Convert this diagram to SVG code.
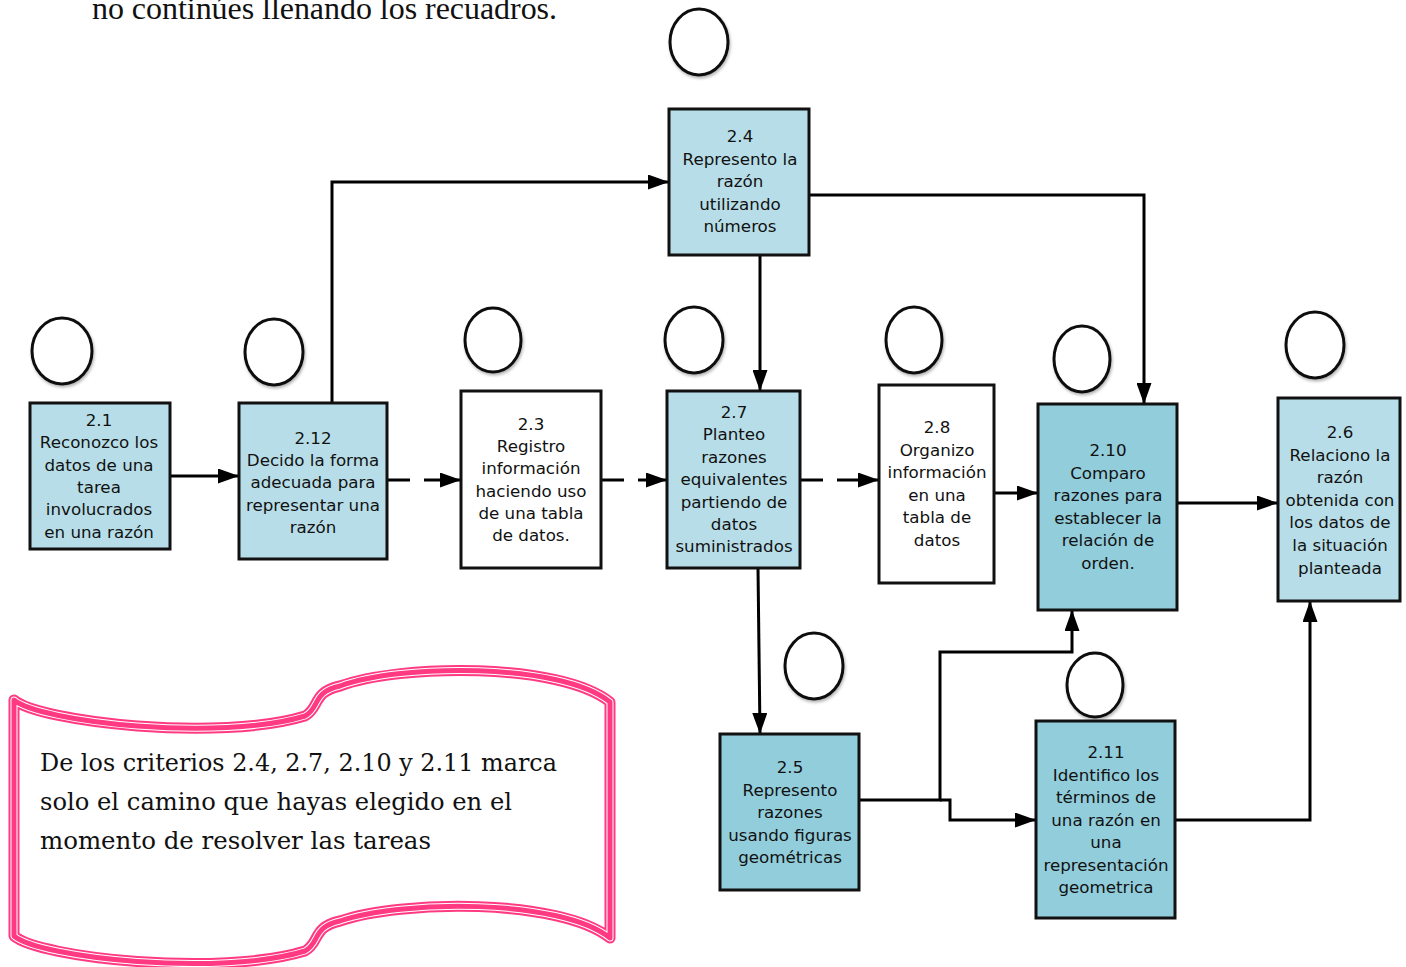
<svg xmlns="http://www.w3.org/2000/svg" width="1406" height="967" viewBox="0 0 1406 967">
<defs>
<style>
.box{stroke:#111;stroke-width:3}
.light{fill:#B7DEE8}
.dark{fill:#92CDDC}
.white{fill:#fff}
.lbl{font-family:"DejaVu Sans","Verdana",sans-serif;font-size:16.7px;fill:#111;text-anchor:middle}
.circ{fill:#fff;stroke:#111;stroke-width:3;filter:url(#sh)}
.con{fill:none;stroke:#000;stroke-width:3}
.scroll{fill:none;stroke-linejoin:round;stroke-linecap:round}
.note{font-family:"DejaVu Serif","Liberation Serif",serif;font-size:25px;fill:#111}
</style>
<marker id="ah" markerUnits="userSpaceOnUse" markerWidth="21" markerHeight="15" refX="21" refY="7.5" orient="auto">
<path d="M0,0 L21,7.5 L0,15 z" fill="#000"/>
</marker>
<filter id="sh" x="-30%" y="-30%" width="160%" height="160%">
<feDropShadow dx="1" dy="2" stdDeviation="1.5" flood-color="#000" flood-opacity="0.3"/>
</filter>
</defs>
<rect width="1406" height="967" fill="#fff"/>

<text x="92" y="19" font-family="Liberation Serif, serif" font-size="32" fill="#111" textLength="465" lengthAdjust="spacing">no continúes llenando los recuadros.</text>

<g id="note">
<path id="scrollPath" class="scroll" d="M14,700 C40,722 220,742 305,716 C320,708 312,692 340,686 C400,664 560,662 610,702 L610,938 C560,898 400,900 340,921 C312,927 320,943 305,951 C220,977 40,958 14,936 Z" stroke="#FF3A82" stroke-width="11"/>
<path class="scroll" d="M14,700 C40,722 220,742 305,716 C320,708 312,692 340,686 C400,664 560,662 610,702 L610,938 C560,898 400,900 340,921 C312,927 320,943 305,951 C220,977 40,958 14,936 Z" stroke="#fff" stroke-width="7"/>
<path class="scroll" d="M14,700 C40,722 220,742 305,716 C320,708 312,692 340,686 C400,664 560,662 610,702 L610,938 C560,898 400,900 340,921 C312,927 320,943 305,951 C220,977 40,958 14,936 Z" stroke="#FF3A82" stroke-width="5"/>
<text class="note" x="40" y="771" textLength="517" lengthAdjust="spacingAndGlyphs">De los criterios 2.4, 2.7, 2.10 y 2.11 marca</text>
<text class="note" x="40" y="810" textLength="472" lengthAdjust="spacingAndGlyphs">solo el camino que hayas elegido en el</text>
<text class="note" x="40" y="849" textLength="391" lengthAdjust="spacingAndGlyphs">momento de resolver las tareas</text>
</g>

<g id="connectors">
<path class="con" d="M170,476 H239" marker-end="url(#ah)"/>
<path class="con" d="M332,403 V182 H669" marker-end="url(#ah)"/>
<path class="con" d="M387,480 H410"/>
<path class="con" d="M424,480 H461" marker-end="url(#ah)"/>
<path class="con" d="M601,480 H624"/>
<path class="con" d="M638,480 H667" marker-end="url(#ah)"/>
<path class="con" d="M800,480 H823"/>
<path class="con" d="M837,480 H879" marker-end="url(#ah)"/>
<path class="con" d="M994,493 H1038" marker-end="url(#ah)"/>
<path class="con" d="M1177,503 H1278" marker-end="url(#ah)"/>
<path class="con" d="M760,255 V391" marker-end="url(#ah)"/>
<path class="con" d="M809,195 H1144 V404" marker-end="url(#ah)"/>
<path class="con" d="M758,568 L760,734" marker-end="url(#ah)"/>
<path class="con" d="M859,800 H940 V652 H1072 V610" marker-end="url(#ah)"/>
<path class="con" d="M940,800 H950 V820 H1036" marker-end="url(#ah)"/>
<path class="con" d="M1175,820 H1310 V601" marker-end="url(#ah)"/>
</g>

<g id="n2_4">
<ellipse class="circ" cx="699" cy="42" rx="29" ry="33"/>
<rect class="box light" x="669" y="109" width="140" height="146"/>
<text class="lbl" x="740" y="142"><tspan x="740">2.4</tspan><tspan x="740" dy="22.5">Represento la</tspan><tspan x="740" dy="22.5">razón</tspan><tspan x="740" dy="22.5">utilizando</tspan><tspan x="740" dy="22.5">números</tspan></text>
</g>

<g id="n2_1">
<ellipse class="circ" cx="62" cy="351" rx="30" ry="33"/>
<rect class="box light" x="30" y="403" width="140" height="146"/>
<text class="lbl" x="99" y="426"><tspan x="99">2.1</tspan><tspan x="99" dy="22.3">Reconozco los</tspan><tspan x="99" dy="22.3">datos de una</tspan><tspan x="99" dy="22.3">tarea</tspan><tspan x="99" dy="22.3">involucrados</tspan><tspan x="99" dy="22.3">en una razón</tspan></text>
</g>

<g id="n2_12">
<ellipse class="circ" cx="274" cy="352" rx="29" ry="33"/>
<rect class="box light" x="239" y="403" width="148" height="156"/>
<text class="lbl" x="313" y="444"><tspan x="313">2.12</tspan><tspan x="313" dy="22.2">Decido la forma</tspan><tspan x="313" dy="22.2">adecuada para</tspan><tspan x="313" dy="22.2">representar una</tspan><tspan x="313" dy="22.2">razón</tspan></text>
</g>

<g id="n2_3">
<ellipse class="circ" cx="493" cy="340" rx="28" ry="32"/>
<rect class="box white" x="461" y="391" width="140" height="177"/>
<text class="lbl" x="531" y="430"><tspan x="531">2.3</tspan><tspan x="531" dy="22.2">Registro</tspan><tspan x="531" dy="22.2">información</tspan><tspan x="531" dy="22.2">haciendo uso</tspan><tspan x="531" dy="22.2">de una tabla</tspan><tspan x="531" dy="22.2">de datos.</tspan></text>
</g>

<g id="n2_7">
<ellipse class="circ" cx="694" cy="340" rx="29" ry="33"/>
<rect class="box light" x="667" y="391" width="133" height="177"/>
<text class="lbl" x="734" y="418"><tspan x="734">2.7</tspan><tspan x="734" dy="22.4">Planteo</tspan><tspan x="734" dy="22.4">razones</tspan><tspan x="734" dy="22.4">equivalentes</tspan><tspan x="734" dy="22.4">partiendo de</tspan><tspan x="734" dy="22.4">datos</tspan><tspan x="734" dy="22.4">suministrados</tspan></text>
</g>

<g id="n2_8">
<ellipse class="circ" cx="914" cy="340" rx="28" ry="33"/>
<rect class="box white" x="879" y="385" width="115" height="198"/>
<text class="lbl" x="937" y="433"><tspan x="937">2.8</tspan><tspan x="937" dy="22.6">Organizo</tspan><tspan x="937" dy="22.6">información</tspan><tspan x="937" dy="22.6">en una</tspan><tspan x="937" dy="22.6">tabla de</tspan><tspan x="937" dy="22.6">datos</tspan></text>
</g>

<g id="n2_10">
<ellipse class="circ" cx="1082" cy="359" rx="28" ry="33"/>
<rect class="box dark" x="1038" y="404" width="139" height="206"/>
<text class="lbl" x="1108" y="456"><tspan x="1108">2.10</tspan><tspan x="1108" dy="22.6">Comparo</tspan><tspan x="1108" dy="22.6">razones para</tspan><tspan x="1108" dy="22.6">establecer la</tspan><tspan x="1108" dy="22.6">relación de</tspan><tspan x="1108" dy="22.6">orden.</tspan></text>
</g>

<g id="n2_6">
<ellipse class="circ" cx="1315" cy="345" rx="29" ry="33"/>
<rect class="box light" x="1278" y="398" width="122" height="203"/>
<text class="lbl" x="1340" y="438"><tspan x="1340">2.6</tspan><tspan x="1340" dy="22.6">Relaciono la</tspan><tspan x="1340" dy="22.6">razón</tspan><tspan x="1340" dy="22.6">obtenida con</tspan><tspan x="1340" dy="22.6">los datos de</tspan><tspan x="1340" dy="22.6">la situación</tspan><tspan x="1340" dy="22.6">planteada</tspan></text>
</g>

<g id="n2_5">
<ellipse class="circ" cx="814" cy="666" rx="29" ry="33"/>
<rect class="box dark" x="720" y="734" width="139" height="156"/>
<text class="lbl" x="790" y="773"><tspan x="790">2.5</tspan><tspan x="790" dy="22.5">Represento</tspan><tspan x="790" dy="22.5">razones</tspan><tspan x="790" dy="22.5">usando figuras</tspan><tspan x="790" dy="22.5">geométricas</tspan></text>
</g>

<g id="n2_11">
<ellipse class="circ" cx="1095" cy="685" rx="28" ry="32"/>
<rect class="box dark" x="1036" y="721" width="139" height="197"/>
<text class="lbl" x="1106" y="758"><tspan x="1106">2.11</tspan><tspan x="1106" dy="22.5">Identifico los</tspan><tspan x="1106" dy="22.5">términos de</tspan><tspan x="1106" dy="22.5">una razón en</tspan><tspan x="1106" dy="22.5">una</tspan><tspan x="1106" dy="22.5">representación</tspan><tspan x="1106" dy="22.5">geometrica</tspan></text>
</g>
</svg>
